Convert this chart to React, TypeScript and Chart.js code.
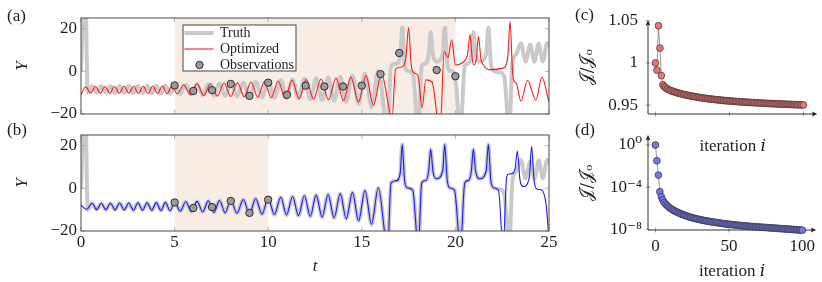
import React, { useEffect, useRef } from 'react';
import { Chart, registerables } from 'chart.js';

Chart.register(...registerables);

const SERIF = "'Liberation Serif', 'DejaVu Serif', serif";
const MATH = "'DejaVu Serif', 'DejaVu Sans', 'Noto Sans', 'Liberation Serif', serif";

type Pt = [number, number];

// ---------------- data ----------------
const tTicks = [0, 5, 10, 15, 20, 25];
const yTicks = [-20, 0, 20];
const iterTicks = [0, 50, 100];
const cTicks = [0.95, 1, 1.05];
const dTicks = [1e-8, 1e-4, 1];
const dTickLabels = ['10⁻⁸', '10⁻⁴', '10⁰'];

const shadeA: Pt = [5, 20];
const shadeB: Pt = [5, 10];

const obsT = [5, 6, 7, 8, 9, 10, 11, 12, 13, 14, 15, 16, 17, 19, 20];
const obsY = [-6.6, -9.2, -8.8, -5.9, -11.5, -5.3, -11.0, -6.7, -7.1, -7.1, -6.7, -1.3, 8.6, 0.6, -2.3];
const obsEndB = 10;

const truth: Pt[] = [
  [0, 0], [0.22, 42], [0.36, -10.0], [0.59, -7.0], [0.84, -10.0], [1.08, -7.0], [1.33, -10.0],
  [1.57, -7.0], [1.82, -10.1], [2.06, -6.9], [2.31, -10.1], [2.55, -6.9], [2.8, -10.2], [3.04, -6.8],
  [3.29, -10.2], [3.53, -6.8], [3.78, -10.3], [4.02, -6.7], [4.27, -10.4], [4.51, -6.6], [4.76, -10.5],
  [5.0, -6.4], [5.3, -10.7], [5.6, -6.3], [5.9, -10.9], [6.2, -6.1], [6.5, -11.1], [6.8, -5.9],
  [7.1, -11.3], [7.4, -5.7], [7.7, -11.5], [8.0, -5.5], [8.33, -11.7], [8.67, -5.2], [9.0, -11.9],
  [9.33, -4.9], [9.67, -12.1], [10.0, -4.6], [10.33, -12.3], [10.67, -4.2], [10.98, -12.5], [11.3, -3.8],
  [11.62, -12.8], [11.93, -3.5], [12.25, -13.1], [12.56, -3.2], [12.88, -13.4], [13.2, -2.9], [13.52, -13.8],
  [13.85, -2.5], [14.17, -14.3], [14.5, -1.9], [14.83, -15.2], [15.17, -1.0], [15.52, -16.8], [15.88, 0.3],
  [16.38, -28], [16.56, 2.6], [16.85, 3.6], [17.05, 7], [17.16, 20.5], [17.28, 4], [17.42, 0.3],
  [17.72, -0.8], [18.02, -28], [18.2, 2.6], [18.45, 3.8], [18.57, 8], [18.68, 18.3], [18.8, 8],
  [18.98, 4.5], [19.32, 8], [19.43, 20.5], [19.56, 4], [19.7, 0.2], [19.95, -0.8], [20.27, -28],
  [20.5, 2.6], [20.72, 3.8], [20.85, 8], [20.96, 18.3], [21.08, 8], [21.3, 4.5], [21.64, 8],
  [21.76, 20.5], [21.89, 4], [22.03, 0.3], [22.4, -0.5], [22.62, -3], [22.87, -28], [23.05, 4],
  [23.25, 8], [23.5, 13.2], [23.75, 4.6], [24.0, 12.6], [24.22, 4.5], [24.45, 13.0], [24.67, 4.6],
  [24.9, 13.3], [25.0, 11.5],
];

const optimizedA: Pt[] = [
  [0, -11.0], [0.25, -7.2], [0.52, -10.2], [0.77, -7.1], [1.03, -10.2], [1.28, -7.1], [1.54, -10.2],
  [1.79, -7.1], [2.05, -10.3], [2.3, -7.0], [2.56, -10.3], [2.81, -7.0], [3.07, -10.3], [3.32, -7.0],
  [3.58, -10.4], [3.83, -6.9], [4.09, -10.4], [4.34, -6.9], [4.6, -10.5], [4.85, -6.8], [5.14, -10.6],
  [5.48, -6.3], [5.84, -11.0], [6.2, -5.9], [6.56, -11.3], [6.92, -5.7], [7.28, -11.6], [7.64, -5.5],
  [8.0, -11.8], [8.36, -5.3], [8.72, -12.0], [9.08, -5.0], [9.44, -12.2], [9.8, -4.8], [10.16, -12.4],
  [10.53, -4.5], [10.9, -12.6], [11.27, -4.2], [11.65, -12.8], [12.03, -3.9], [12.42, -13.1], [12.82, -3.6],
  [13.22, -13.4], [13.62, -3.2], [14.02, -13.8], [14.42, -2.7], [14.82, -14.5], [15.22, -2.0], [15.62, -15.8],
  [16.05, -1.2], [16.62, -22], [16.8, 1.0], [17.1, 2.0], [17.35, 6], [17.5, 20.5], [17.64, 3],
  [17.8, -0.8], [18.0, -2.0], [18.22, -17], [18.42, -4], [18.75, -5], [19.18, -28], [19.4, 9.3],
  [19.6, 6.5], [19.8, 14.8], [20.0, 3.0], [20.45, 4.5], [20.65, 8], [20.78, 17.2], [20.9, 6],
  [20.98, 3.0], [21.12, 6], [21.23, 16.4], [21.36, 6], [21.49, 3.0], [21.85, 0.8], [22.55, 1.5],
  [22.8, 7], [22.92, 23.5], [23.05, 0], [23.14, -4.8], [23.25, -5.5], [23.5, -14.0], [23.85, -4.2],
  [24.3, -13.5], [24.62, -2.8], [25.0, -14.5],
];

const optimizedBStart: Pt[] = [[0, -7.8], [0.3, -9.9]];
const optimizedBShared: Pt = [0.5, 22.05];
const optimizedBEnd: Pt[] = [
  [22.3, -0.8], [22.55, -28], [22.74, 5.5], [22.85, 6.7], [23.1, 7.3], [23.2, 10], [23.31, 17.5],
  [23.45, 4], [23.63, 0.9], [23.95, 5], [24.07, 19.7], [24.2, 4], [24.34, -0.3], [24.61, -0.8],
  [24.85, -8], [25.0, -24],
];

const costC = [
  1.0, 0.9915, 1.044, 1.0175, 0.985, 0.9742, 0.9718, 0.9703, 0.9692, 0.9683,
  0.9675, 0.9668, 0.9662, 0.9656, 0.965, 0.9645, 0.964, 0.9636, 0.9631, 0.9627,
  0.9623, 0.9619, 0.9615, 0.9612, 0.9608, 0.9605, 0.9602, 0.9599, 0.9596, 0.9593,
  0.959, 0.9587, 0.9585, 0.9582, 0.958, 0.9577, 0.9575, 0.9573, 0.9571, 0.9569,
  0.9567, 0.9565, 0.9563, 0.9561, 0.9559, 0.9557, 0.9556, 0.9554, 0.9552, 0.9551,
  0.9549, 0.9548, 0.9546, 0.9545, 0.9544, 0.9542, 0.9541, 0.954, 0.9538, 0.9537,
  0.9536, 0.9535, 0.9534, 0.9533, 0.9532, 0.9531, 0.953, 0.9529, 0.9528, 0.9527,
  0.9526, 0.9525, 0.9524, 0.9523, 0.9522, 0.9521, 0.952, 0.9519, 0.9518, 0.9518,
  0.9517, 0.9516, 0.9515, 0.9514, 0.9514, 0.9513, 0.9512, 0.9511, 0.9511, 0.951,
  0.9509, 0.9508, 0.9508, 0.9507, 0.9506, 0.9506, 0.9505, 0.9504, 0.9504, 0.9503,
  0.9502,
];

const costD = [
  1, 3.2e-2, 1.4e-3, 3.7e-5, 1.25e-5, 6.0e-6, 3.5e-6, 2.4e-6, 1.74e-6, 1.32e-6,
  1.02e-6, 8.3e-7, 6.8e-7, 5.6e-7, 4.8e-7, 4.1e-7, 3.5e-7, 3.1e-7, 2.7e-7, 2.4e-7,
  2.1e-7, 1.9e-7, 1.7e-7, 1.5e-7, 1.38e-7, 1.26e-7, 1.15e-7, 1.05e-7, 9.8e-8, 9.1e-8,
  8.5e-8, 7.9e-8, 7.4e-8, 6.9e-8, 6.5e-8, 6.2e-8, 5.8e-8, 5.5e-8, 5.1e-8, 4.9e-8,
  4.7e-8, 4.5e-8, 4.3e-8, 4.1e-8, 3.9e-8, 3.7e-8, 3.55e-8, 3.4e-8, 3.25e-8, 3.1e-8,
  3.0e-8, 2.9e-8, 2.8e-8, 2.7e-8, 2.63e-8, 2.5e-8, 2.45e-8, 2.35e-8, 2.3e-8, 2.24e-8,
  2.14e-8, 2.09e-8, 2.04e-8, 2.0e-8, 1.9e-8, 1.86e-8, 1.82e-8, 1.78e-8, 1.74e-8, 1.7e-8,
  1.66e-8, 1.62e-8, 1.58e-8, 1.55e-8, 1.51e-8, 1.48e-8, 1.45e-8, 1.41e-8, 1.38e-8, 1.35e-8,
  1.32e-8, 1.29e-8, 1.26e-8, 1.23e-8, 1.2e-8, 1.17e-8, 1.15e-8, 1.12e-8, 1.1e-8, 1.07e-8,
  1.05e-8, 1.02e-8, 1.0e-8, 9.8e-9, 9.5e-9, 9.3e-9, 9.1e-9, 8.9e-9, 8.7e-9, 8.5e-9,
  8.3e-9,
];

// ---------------- styles ----------------
const W = 822;
const H = 282;
const TEXT = '#1e1e1e';
const tickFont = { family: SERIF, size: 17 };

// ---------------- plugins ----------------
const framePlugin = {
  id: 'frame',
  beforeDatasetsDraw(chart: any, _a: any, opts: any) {
    if (!opts || !opts.shade) return;
    const { ctx, chartArea: ca, scales } = chart;
    const x1 = scales.x.getPixelForValue(opts.shade[0]);
    const x2 = scales.x.getPixelForValue(opts.shade[1]);
    ctx.save();
    ctx.fillStyle = opts.shadeColor;
    ctx.fillRect(x1, ca.top, x2 - x1, ca.bottom - ca.top);
    ctx.restore();
  },
  afterDatasetsDraw(chart: any, _a: any, opts: any) {
    if (!opts || !opts.shade) return;
    const { ctx, chartArea: ca, scales } = chart;
    ctx.save();
    ctx.strokeStyle = '#a0a0a0';
    ctx.lineWidth = 0.8;
    ctx.beginPath();
    for (const t of scales.x.ticks) {
      const px = scales.x.getPixelForValue(t.value);
      ctx.moveTo(px, ca.bottom);
      ctx.lineTo(px, ca.bottom - 4);
      ctx.moveTo(px, ca.top);
      ctx.lineTo(px, ca.top + 4);
    }
    for (const t of scales.y.ticks) {
      const py = scales.y.getPixelForValue(t.value);
      ctx.moveTo(ca.left, py);
      ctx.lineTo(ca.left + 4, py);
      ctx.moveTo(ca.right, py);
      ctx.lineTo(ca.right - 4, py);
    }
    ctx.stroke();
    ctx.strokeStyle = '#4a4a4a';
    ctx.lineWidth = 1;
    ctx.strokeRect(ca.left, ca.top, ca.right - ca.left, ca.bottom - ca.top);
    ctx.restore();
  },
};

const legendPlugin = {
  id: 'boxLegend',
  afterDatasetsDraw(chart: any, _a: any, opts: any) {
    if (!opts || !opts.entries) return;
    const { ctx, chartArea: ca } = chart;
    const x0 = ca.left + opts.dx;
    const y0 = ca.top + opts.dy;
    ctx.save();
    ctx.fillStyle = '#ffffff';
    ctx.fillRect(x0, y0, opts.w, opts.h);
    ctx.strokeStyle = '#333333';
    ctx.lineWidth = 0.9;
    ctx.strokeRect(x0, y0, opts.w, opts.h);
    opts.entries.forEach((idx: number, k: number) => {
      const ds = chart.data.datasets[idx];
      const cy = y0 + 8 + k * 16;
      if (ds.showLine) {
        ctx.strokeStyle = ds.borderColor;
        ctx.lineWidth = ds.borderWidth;
        ctx.beginPath();
        ctx.moveTo(x0 + 1.5, cy);
        ctx.lineTo(x0 + 30.5, cy);
        ctx.stroke();
      } else {
        ctx.beginPath();
        ctx.arc(x0 + 16.5, cy, ds.pointRadius, 0, Math.PI * 2);
        ctx.fillStyle = ds.pointBackgroundColor;
        ctx.fill();
        ctx.strokeStyle = ds.pointBorderColor;
        ctx.lineWidth = ds.pointBorderWidth;
        ctx.stroke();
      }
      ctx.fillStyle = TEXT;
      ctx.font = `14px ${SERIF}`;
      ctx.textBaseline = 'middle';
      ctx.textAlign = 'left';
      ctx.fillText(ds.label, x0 + 37, cy);
    });
    ctx.restore();
  },
};

const arrowAxesPlugin = {
  id: 'arrowAxes',
  beforeDatasetsDraw(chart: any, _a: any, opts: any) {
    if (!opts || !opts.on) return;
    const { ctx, chartArea: ca, scales } = chart;
    const { x, y } = scales;
    ctx.save();
    ctx.strokeStyle = '#8a8a8a';
    ctx.lineWidth = 0.8;
    ctx.beginPath();
    for (const t of x.ticks) {
      const px = x.getPixelForValue(t.value);
      ctx.moveTo(px, ca.bottom - 2.5);
      ctx.lineTo(px, ca.bottom + 2.5);
    }
    for (const t of y.ticks) {
      const py = y.getPixelForValue(t.value);
      ctx.moveTo(ca.left - 2.5, py);
      ctx.lineTo(ca.left + 2.5, py);
    }
    ctx.stroke();
    ctx.strokeStyle = '#1a1a1a';
    ctx.fillStyle = '#1a1a1a';
    ctx.lineWidth = 0.9;
    ctx.beginPath();
    ctx.moveTo(ca.left, ca.bottom);
    ctx.lineTo(ca.right - 3, ca.bottom);
    ctx.moveTo(ca.left, ca.bottom);
    ctx.lineTo(ca.left, ca.top + 3);
    ctx.stroke();
    ctx.beginPath();
    ctx.moveTo(ca.right, ca.bottom);
    ctx.lineTo(ca.right - 5.5, ca.bottom - 2.4);
    ctx.lineTo(ca.right - 4.2, ca.bottom);
    ctx.lineTo(ca.right - 5.5, ca.bottom + 2.4);
    ctx.closePath();
    ctx.fill();
    ctx.beginPath();
    ctx.moveTo(ca.left, ca.top);
    ctx.lineTo(ca.left - 2.4, ca.top + 5.5);
    ctx.lineTo(ca.left, ca.top + 4.2);
    ctx.lineTo(ca.left + 2.4, ca.top + 5.5);
    ctx.closePath();
    ctx.fill();
    ctx.restore();
  },
};

// ---------------- helpers ----------------
const toXY = (pts: Pt[]) => pts.map((p) => ({ x: p[0], y: p[1] }));
const setTicks = (vals: number[]) => (s: any) => {
  s.ticks = vals.map((v) => ({ value: v }));
};
const fmtSigned = (v: any) => (Number(v) < 0 ? '\u2212' + Math.abs(Number(v)) : String(v));
const noGrid = { display: false, drawTicks: false };

function timeSeriesConfig(panel: 'a' | 'b') {
  const isA = panel === 'a';
  const obsN = isA ? obsT.length : obsT.filter((t) => t <= obsEndB).length;
  const optimized = isA
    ? optimizedA
    : [
        ...optimizedBStart,
        ...truth.filter((p) => p[0] > optimizedBShared[0] && p[0] < optimizedBShared[1]),
        ...optimizedBEnd,
      ];
  return {
    type: 'scatter',
    data: {
      datasets: [
        {
          label: 'Observations',
          data: obsT.slice(0, obsN).map((t, i) => ({ x: t, y: obsY[i] })),
          showLine: false,
          pointRadius: 3.7,
          pointBackgroundColor: '#9b9b9b',
          pointBorderColor: '#2e2e2e',
          pointBorderWidth: 1,
        },
        {
          label: 'Optimized',
          data: toXY(optimized),
          showLine: true,
          borderColor: isA ? '#ff1a1a' : '#1a1aff',
          borderWidth: 1.1,
          pointRadius: 0,
          cubicInterpolationMode: 'monotone',
        },
        {
          label: 'Truth',
          data: toXY(truth),
          showLine: true,
          borderColor: '#c9c9c9',
          borderWidth: 4,
          pointRadius: 0,
          cubicInterpolationMode: 'monotone',
        },
      ],
    },
    options: {
      animation: false,
      responsive: false,
      events: [],
      layout: {
        padding: isA
          ? { left: 11, top: 18, right: 273, bottom: 168 }
          : { left: 11, top: 135, right: 273, bottom: 3 },
      },
      plugins: {
        legend: { display: false },
        tooltip: { enabled: false },
        frame: { shade: isA ? shadeA : shadeB, shadeColor: '#f8ede4' },
        boxLegend: isA ? { entries: [2, 1, 0], dx: 102, dy: 7, w: 113, h: 46 } : {},
        arrowAxes: {},
      },
      scales: {
        x: {
          type: 'linear',
          min: 0,
          max: 25,
          afterBuildTicks: setTicks(tTicks),
          grid: noGrid,
          border: { display: false },
          ticks: { display: !isA, font: tickFont, color: TEXT, padding: 1.5, maxRotation: 0 },
          title: isA
            ? { display: false }
            : {
                display: true,
                text: 't',
                color: TEXT,
                font: { family: SERIF, size: 17, style: 'italic' },
                padding: { top: 0, bottom: 2.3 },
              },
          afterFit: (s: any) => {
            s.height = isA ? 0 : 48;
          },
        },
        y: {
          type: 'linear',
          min: -20,
          max: 25,
          afterBuildTicks: setTicks(yTicks),
          grid: noGrid,
          border: { display: false },
          ticks: { font: tickFont, color: TEXT, padding: 4, callback: fmtSigned },
          title: {
            display: true,
            text: 'Y',
            color: TEXT,
            font: { family: SERIF, size: 17, style: 'italic' },
            padding: { top: 1.3, bottom: 0 },
          },
          afterFit: (s: any) => {
            s.width = 70;
          },
        },
      },
    },
    plugins: [framePlugin, legendPlugin, arrowAxesPlugin],
  };
}

function costConfig(panel: 'c' | 'd') {
  const isC = panel === 'c';
  const vals = isC ? costC : costD;
  return {
    type: 'scatter',
    data: {
      datasets: [
        {
          label: 'cost',
          data: vals.map((v, i) => ({ x: i, y: v })),
          showLine: true,
          borderColor: '#6a6a6a',
          borderWidth: 0.7,
          pointRadius: 3.4,
          pointBackgroundColor: isC ? '#f07272' : '#7676ea',
          pointBorderColor: '#353535',
          pointBorderWidth: 0.7,
          clip: false,
        },
      ],
    },
    options: {
      animation: false,
      responsive: false,
      events: [],
      layout: {
        padding: isC
          ? { left: 576, top: 18.5, right: 4, bottom: 124 }
          : { left: 576, top: 135, right: 4, bottom: 0 },
      },
      plugins: {
        legend: { display: false },
        tooltip: { enabled: false },
        frame: {},
        boxLegend: {},
        arrowAxes: { on: true },
      },
      scales: {
        x: {
          type: 'linear',
          min: -5.05,
          max: 109.4,
          afterBuildTicks: setTicks(iterTicks),
          grid: noGrid,
          border: { display: false },
          ticks: { display: !isC, font: tickFont, color: TEXT, padding: 6.5, maxRotation: 0 },
          title: {
            display: true,
            text: 'iteration 𝑖',
            color: TEXT,
            font: { family: SERIF, size: 17 },
            padding: { top: 0, bottom: isC ? 0.8 : 0.1 },
          },
          afterFit: (s: any) => {
            s.height = isC ? 44 : 52;
          },
        },
        y: isC
          ? {
              type: 'linear',
              min: 0.9395,
              max: 1.0506,
              afterBuildTicks: setTicks(cTicks),
              grid: noGrid,
              border: { display: false },
              ticks: { font: tickFont, color: TEXT, padding: 10, callback: (v: any) => String(v) },
              title: {
                display: true,
                text: '𝒥/𝒥ₒ',
                color: TEXT,
                font: { family: MATH, size: 17 },
                padding: { top: 1, bottom: 0 },
              },
              afterFit: (s: any) => {
                s.width = 72;
              },
            }
          : {
              type: 'logarithmic',
              min: 8.6e-9,
              max: 8.9,
              afterBuildTicks: setTicks(dTicks),
              grid: noGrid,
              border: { display: false },
              ticks: {
                font: tickFont,
                color: TEXT,
                padding: 6,
                callback: (_v: any, i: number) => dTickLabels[i],
              },
              title: {
                display: true,
                text: '𝒥/𝒥ₒ',
                color: TEXT,
                font: { family: MATH, size: 17 },
                padding: { top: 1, bottom: 0 },
              },
              afterFit: (s: any) => {
                s.width = 72;
              },
            },
      },
    },
    plugins: [framePlugin, legendPlugin, arrowAxesPlugin],
  };
}

function ChartCanvas({ build }: { build: () => any }) {
  const ref = useRef<HTMLCanvasElement>(null);
  useEffect(() => {
    const chart = new Chart(ref.current as HTMLCanvasElement, build());
    return () => chart.destroy();
  }, []);
  return (
    <canvas
      ref={ref}
      width={W}
      height={H}
      style={{ position: 'absolute', left: 0, top: 0, width: W, height: H, display: 'block' }}
    />
  );
}

const panelLabel = (text: string, left: number, top: number) => (
  <div
    key={text}
    style={{
      position: 'absolute',
      left,
      top,
      fontFamily: SERIF,
      fontSize: 17,
      lineHeight: '20px',
      color: TEXT,
    }}
  >
    {text}
  </div>
);

export default function App() {
  return (
    <div
      style={{
        position: 'absolute',
        left: 0,
        top: 0,
        width: W,
        height: H,
        background: '#ffffff',
        overflow: 'hidden',
      }}
    >
      <ChartCanvas build={() => timeSeriesConfig('a')} />
      <ChartCanvas build={() => timeSeriesConfig('b')} />
      <ChartCanvas build={() => costConfig('c')} />
      <ChartCanvas build={() => costConfig('d')} />
      {panelLabel('(a)', 7, 6)}
      {panelLabel('(b)', 7, 120)}
      {panelLabel('(c)', 575, 5)}
      {panelLabel('(d)', 575, 120)}
    </div>
  );
}
